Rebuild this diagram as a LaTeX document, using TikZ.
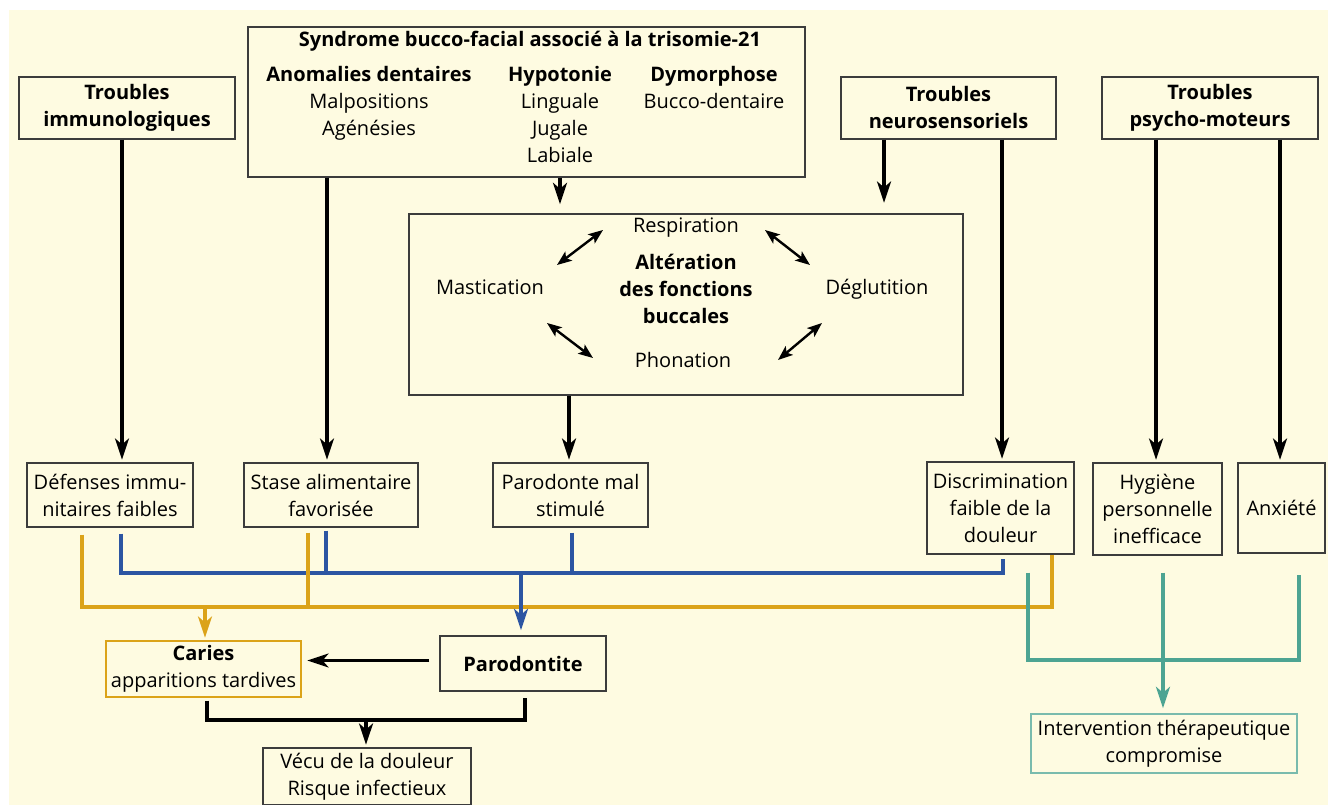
\documentclass[tikz,border=0pt]{standalone}
\usepackage{fontspec}
\setmainfont{Open Sans}
\usepackage{xcolor}
\usepackage{tikz}
\usetikzlibrary{arrows.meta,calc,positioning}

\definecolor{creme}{HTML}{FEFBE1}
\definecolor{bleu}{HTML}{2C55A2}
\definecolor{jaune}{HTML}{DBA319}
\definecolor{vert}{HTML}{4DA492}
\definecolor{bord}{HTML}{3C3C3C}

\tikzset{
  boite/.style={draw=bord,line width=0.8pt,align=center,inner sep=1pt,
    font=\fontsize{15}{20.25}\selectfont},
  titre/.style={boite,font=\fontsize{15}{20.25}\selectfont\bfseries},
  texte/.style={align=center,inner sep=0pt,font=\fontsize{15}{20.25}\selectfont},
  gras/.style={texte,font=\fontsize{15}{20.25}\selectfont\bfseries},
  pointe/.style={-{Stealth[length=16pt,width=10.5pt,inset=4.5pt]}},
  fleche/.style={line width=2.4pt,pointe,shorten >=2pt},
  dfleche/.style={line width=1.8pt,{Stealth[length=11pt,width=8.5pt,inset=2.5pt]}-{Stealth[length=11pt,width=8.5pt,inset=2.5pt]}},
  trait/.style={line width=2.4pt},
}

\begin{document}
\begin{tikzpicture}[x=0.75pt,y=-0.75pt]
  \useasboundingbox (0,0) rectangle (1328,805);
  \fill[creme] (9,10) rectangle (1328,805);

  % rangee du haut
  \node[titre,minimum width=162pt,minimum height=46.5pt] (immuno) at (127,108) {Troubles\\immunologiques};
  \node[boite,minimum width=417.75pt,minimum height=112.5pt] (syndr) at (526.5,102) {};
  \node[gras] (titresyndr) at (530,41) {Syndrome bucco-facial associé à la trisomie-21};
  \node[texte,anchor=north] (anom) at (369,66) {\textbf{Anomalies dentaires}\\Malpositions\\Agénésies};
  \node[texte,anchor=north] (hypo) at (560,66) {\textbf{Hypotonie}\\Linguale\\Jugale\\Labiale};
  \node[texte,anchor=north] (dysm) at (714,66) {\textbf{Dymorphose}\\Bucco-dentaire};
  \node[titre,minimum width=161.25pt,minimum height=46.5pt] (neuro) at (948.5,108) {Troubles\\neurosensoriels};
  \node[titre,minimum width=162pt,minimum height=46.5pt] (psycho) at (1210,108) {Troubles\\psycho-moteurs};

  % fonctions buccales
  \node[boite,minimum width=415.5pt,minimum height=135.75pt] (alter) at (686,304.5) {};
  \node[gras] (centre) at (686,288.5) {Altération\\des fonctions\\buccales};
  \node[texte] (resp) at (686,228) {Respiration};
  \node[texte] (mast) at (490,287) {Mastication};
  \node[texte] (degl) at (877,289) {Déglutition};
  \node[texte] (phon) at (683,360) {Phonation};
  \foreach \xa/\ya/\xb/\yb in {557/265/603/230,765/230/810/265,547/323/593/358,778/360/822/323}
    \draw[dfleche] (\xa,\ya) -- (\xb,\yb);

  % consequences
  \node[boite,minimum width=124.5pt,minimum height=48pt] (defense) at (110,495) {Défenses immu-\\nitaires faibles};
  \node[boite,minimum width=130.5pt,minimum height=48pt] (stase) at (331,495) {Stase alimentaire\\favorisée};
  \node[boite,minimum width=116.25pt,minimum height=48pt] (paro) at (570.5,495) {Parodonte mal\\stimulé};
  \node[boite,minimum width=110.25pt,minimum height=69pt] (discri) at (1000.5,508) {Discrimination\\faible de la\\douleur};
  \node[boite,minimum width=96.75pt,minimum height=69pt] (hyg) at (1157.5,509) {Hygiène\\personnelle\\inefficace};
  \node[boite,minimum width=65.25pt,minimum height=67.5pt] (anx) at (1281.5,508) {Anxiété};

  \node[boite,draw=jaune,minimum width=146.25pt,minimum height=42pt] (caries) at (203.5,669) {\textbf{Caries}\\apparitions tardives};
  \node[titre,minimum width=124.5pt,minimum height=41.25pt] (parodontite) at (523,663.5) {Parodontite};
  \node[boite,minimum width=156pt,minimum height=42.75pt] (vecu) at (367,776.5) {Vécu de la douleur\\Risque infectieux};
  \node[boite,draw=vert!75,minimum width=199.5pt,minimum height=44.25pt] (interv) at (1164,743.5) {Intervention thérapeutique\\compromise};

  % fleches noires
  \draw[fleche] (immuno.south -| 122,0) -- (defense.north -| 122,0);
  \draw[fleche] (syndr.south -| 327,0) -- (stase.north -| 327,0);
  \draw[fleche,shorten >=7pt] (syndr.south -| 560,0) -- (alter.north -| 560,0);
  \draw[fleche,shorten >=8pt] (neuro.south -| 884,0) -- (alter.north -| 884,0);
  \draw[fleche] (alter.south -| 569,0) -- (paro.north -| 569,0);
  \draw[fleche] (neuro.south -| 1002,0) -- (discri.north -| 1002,0);
  \draw[fleche] (psycho.south -| 1156,0) -- (hyg.north -| 1156,0);
  \draw[fleche] (psycho.south -| 1280,0) -- (anx.north -| 1280,0);

  % bus
  \coordinate (busB) at (0,573);
  \coordinate (busJ) at (0,607);
  \coordinate (busV) at (0,660);
  \coordinate (busN) at (0,720);

  \draw[trait,bleu] ($(defense.south -| 121,0)+(0,6)$) |- (busB -| 1003,0) -- ($(discri.south -| 1003,0)+(0,4)$);
  \draw[trait,bleu] ($(stase.south -| 326,0)+(0,3)$) -- (busB -| 326,0);
  \draw[trait,bleu] ($(paro.south -| 572,0)+(0,5)$) -- (busB -| 572,0);

  \draw[trait,jaune] ($(defense.south -| 82,0)+(0,7)$) |- (busJ -| 1052,0) -- (discri.south -| 1052,0);
  \draw[trait,jaune] ($(stase.south -| 308,0)+(0,5)$) -- (busJ -| 308,0);
  \draw[fleche,jaune] (busJ -| 205,0) -- (caries.north -| 205,0);
  \draw[fleche,bleu,shorten >=4pt] (busB -| 521,0) -- (parodontite.north -| 521,0);

  \draw[trait,vert] ($(discri.south -| 1028,0)+(0,18)$) |- (busV -| 1299,0) -- ($(anx.south -| 1299,0)+(0,21)$);
  \draw[fleche,vert,shorten >=4pt] ($(hyg.south -| 1163,0)+(0,17)$) -- (interv.north -| 1163,0);

  \draw[fleche] ($(parodontite.west)+(-10,-3)$) -- ($(caries.east |- parodontite.west)+(3,-3)$);
  \draw[trait] ($(caries.south -| 207,0)+(0,3)$) |- (busN -| 525,0) -- ($(parodontite.south -| 525,0)+(0,6)$);
  \draw[fleche] (busN -| 366,0) -- (vecu.north -| 366,0);
\end{tikzpicture}
\end{document}
